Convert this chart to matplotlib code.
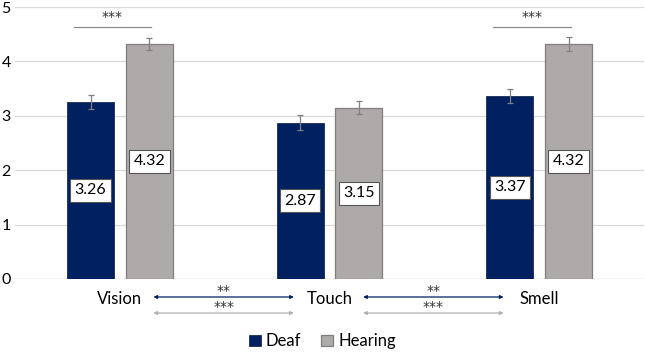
import matplotlib.pyplot as plt
import matplotlib.transforms as mtransforms
import numpy as np

plt.rcParams['font.family'] = ['Lato', 'DejaVu Sans']

# Data
categories = ["Vision", "Touch", "Smell"]
deaf = [3.26, 2.87, 3.37]
hearing = [4.32, 3.15, 4.32]
deaf_err = [0.13, 0.14, 0.13]
hearing_err = [0.11, 0.12, 0.12]

navy = '#002060'
grey = '#AEAAAA'

fig = plt.figure(figsize=(6.45, 3.52), dpi=100)
ax = fig.add_axes([0.0233, 0.2074, 0.9752, 0.7727])

x = np.arange(len(categories))
w = 0.224
off = 0.14

ax.bar(x - off, deaf, w, color=navy, edgecolor='#1a2a55', linewidth=0.6,
       yerr=deaf_err, error_kw=dict(ecolor='#7f7f7f', elinewidth=0.9, capsize=2, capthick=0.9),
       label='Deaf', zorder=3)
ax.bar(x + off, hearing, w, color=grey, edgecolor='#7f7f7f', linewidth=0.9,
       yerr=hearing_err, error_kw=dict(ecolor='#7f7f7f', elinewidth=0.9, capsize=2, capthick=0.9),
       label='Hearing', zorder=3)

# value labels centred in bars
for xi, v in zip(x - off, deaf):
    ax.text(xi, v / 2, f"{v:.2f}", ha='center', va='center', fontsize=11.5, zorder=5,
            bbox=dict(boxstyle='square,pad=0.28', fc='white', ec='#555555', lw=0.8))
for xi, v in zip(x + off, hearing):
    ax.text(xi, v / 2, f"{v:.2f}", ha='center', va='center', fontsize=11.5, zorder=5,
            bbox=dict(boxstyle='square,pad=0.28', fc='white', ec='#555555', lw=0.8))

ax.set_xlim(-0.5, 2.5)
ax.set_ylim(0, 5)
ax.set_yticks(range(6))
ax.yaxis.grid(True, color='#d9d9d9', linewidth=0.9, zorder=0)
ax.set_axisbelow(True)
for s in ax.spines.values():
    s.set_visible(False)
ax.tick_params(axis='y', length=0, pad=3, labelsize=11.5)
ax.tick_params(axis='x', length=0, pad=9, labelsize=12)
ax.set_xticks(x)
ax.set_xticklabels(categories)
ax.axhline(0, color='#d9d9d9', linewidth=0.9, zorder=1)

star_font = dict(family='DejaVu Sans', fontsize=10, color='#333333')

# significance above bars (within-category)
for i in [0, 2]:
    x0, x1 = x[i] - 0.22, x[i] + 0.15
    ax.plot([x0, x1], [4.63, 4.63], color='#8c8c8c', linewidth=0.9, clip_on=False)
    ax.text((x0 + x1) / 2, 4.68, "***", ha='center', va='bottom', **star_font)

# between-category comparisons below axis
trans = mtransforms.blended_transform_factory(ax.transData, fig.transFigure)
pairs = [(0, 1), (1, 2)]
for a, b in pairs:
    xa, xb = x[a] + 0.16, x[b] - 0.17
    for yy, col, stars in [(1 - 297 / 352, navy, "**"), (1 - 313 / 352, '#b0b0b0', "***")]:
        ax.annotate('', xy=(xa, yy), xytext=(xb, yy), xycoords=trans, textcoords=trans,
                    arrowprops=dict(arrowstyle='<|-|>', color=col, lw=0.9,
                                    mutation_scale=5, shrinkA=0, shrinkB=0),
                    annotation_clip=False)
        ax.text((xa + xb) / 2, yy - 0.004, stars, transform=trans, ha='center', va='bottom',
                **star_font)

fig.legend(loc='lower center', bbox_to_anchor=(0.5, -0.035), ncol=2, frameon=False,
           fontsize=12, handlelength=0.7, handleheight=0.7, handletextpad=0.3, columnspacing=1.2)

fig.savefig('out.png', dpi=100)
